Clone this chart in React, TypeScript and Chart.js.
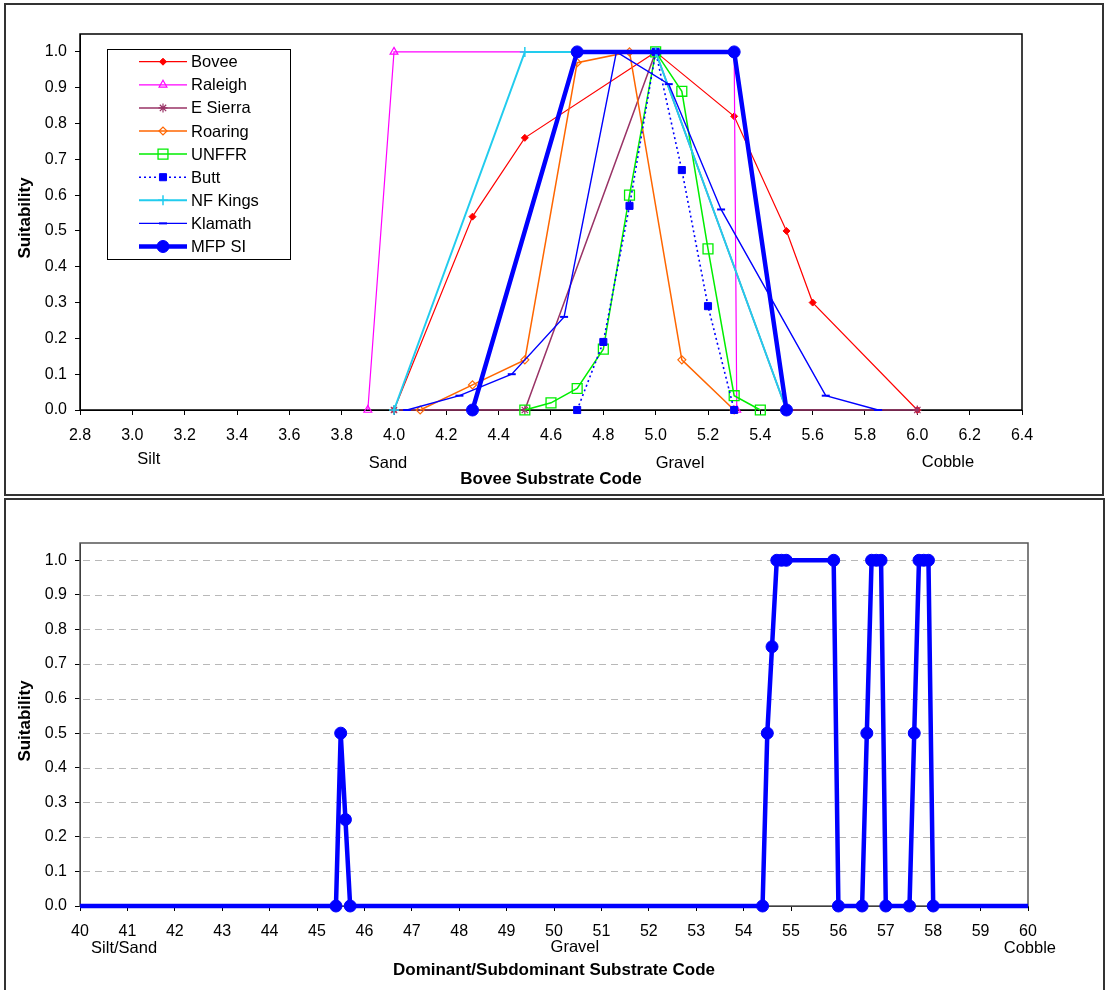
import React, { useEffect, useRef } from 'react';
import { Chart, registerables } from 'chart.js';
import { drawPoint } from 'chart.js/helpers';

Chart.register(...registerables);

const FONT = "'Liberation Sans', Arial, Helvetica, sans-serif";

// ---------- Top chart data (Bovee substrate code) ----------
const boveeX = [4.0, 4.3, 4.5, 5.0, 5.3, 5.5, 5.6, 6.0];
const boveeY = [0, 0.54, 0.76, 1.0, 0.82, 0.5, 0.3, 0];
const raleighX = [3.9, 4.0, 5.3, 5.31];
const raleighY = [0, 1.0, 1.0, 0];
const eSierraX = [4.0, 4.5, 5.0, 5.5, 6.0];
const eSierraY = [0, 0, 1.0, 0, 0];
const roaringX = [4.1, 4.3, 4.5, 4.7, 4.9, 5.1, 5.3];
const roaringY = [0, 0.07, 0.14, 0.97, 1.0, 0.14, 0];
const unffrX = [4.5, 4.6, 4.7, 4.8, 4.9, 5.0, 5.1, 5.2, 5.3, 5.4];
const unffrY = [0, 0.02, 0.06, 0.17, 0.6, 1.0, 0.89, 0.45, 0.04, 0];
const buttX = [4.7, 4.8, 4.9, 5.0, 5.1, 5.2, 5.3];
const buttY = [0, 0.19, 0.57, 1.0, 0.67, 0.29, 0];
const nfKingsX = [4.0, 4.5, 5.0, 5.5];
const nfKingsY = [0, 1.0, 1.0, 0];
const klamathX = [4.05, 4.25, 4.45, 4.65, 4.85, 5.05, 5.25, 5.65, 5.85];
const klamathY = [0, 0.04, 0.1, 0.26, 1.0, 0.91, 0.56, 0.04, 0];
const mfpX = [4.3, 4.7, 5.3, 5.5];
const mfpY = [0, 1.0, 1.0, 0];

const topXTicks = [2.8, 3.0, 3.2, 3.4, 3.6, 3.8, 4.0, 4.2, 4.4, 4.6, 4.8, 5.0, 5.2, 5.4, 5.6, 5.8, 6.0, 6.2, 6.4];
const suitTicks = [0, 0.1, 0.2, 0.3, 0.4, 0.5, 0.6, 0.7, 0.8, 0.9, 1.0];
const topZoneLabels = ['Silt', 'Sand', 'Gravel', 'Cobble'];
const topZoneAt = [3.063, 3.977, 5.093, 6.117];

// ---------- Bottom chart data (dominant/subdominant code) ----------
const domX = [40, 45.4, 45.5, 45.6, 45.7, 54.4, 54.5, 54.6, 54.7, 54.8, 54.9, 55.9, 56.0, 56.5, 56.6, 56.7, 56.8, 56.9, 57.0, 57.5, 57.6, 57.7, 57.8, 57.9, 58.0, 60];
const domY = [0, 0, 0.5, 0.25, 0, 0, 0.5, 0.75, 1.0, 1.0, 1.0, 1.0, 0, 0, 0.5, 1.0, 1.0, 1.0, 0, 0, 0.5, 1.0, 1.0, 1.0, 0, 0];
const bottomXTicks = [40, 41, 42, 43, 44, 45, 46, 47, 48, 49, 50, 51, 52, 53, 54, 55, 56, 57, 58, 59, 60];
const bottomZoneLabels = ['Silt/Sand', 'Gravel', 'Cobble'];
const bottomZoneAt = [40.93, 50.44, 60.04];

type Series = {
  label: string; xs: number[]; ys: number[]; color: string; width: number; dash: number[];
  point: string; radius: number; fill: string; pbw: number;
};

const topSeries: Series[] = [
  { label: 'Bovee', xs: boveeX, ys: boveeY, color: '#FF0000', width: 1.2, dash: [], point: 'rectRot', radius: 3.5, fill: '#FF0000', pbw: 1 },
  { label: 'Raleigh', xs: raleighX, ys: raleighY, color: '#FF00FF', width: 1.2, dash: [], point: 'triangle', radius: 4.5, fill: 'rgba(0,0,0,0)', pbw: 1.2 },
  { label: 'E Sierra', xs: eSierraX, ys: eSierraY, color: '#993366', width: 1.5, dash: [], point: 'star', radius: 4.5, fill: 'rgba(0,0,0,0)', pbw: 1.2 },
  { label: 'Roaring', xs: roaringX, ys: roaringY, color: '#FF6600', width: 1.5, dash: [], point: 'rectRot', radius: 4, fill: 'rgba(0,0,0,0)', pbw: 1.2 },
  { label: 'UNFFR', xs: unffrX, ys: unffrY, color: '#00EE00', width: 1.5, dash: [], point: 'rect', radius: 7, fill: 'rgba(0,0,0,0)', pbw: 1.3 },
  { label: 'Butt', xs: buttX, ys: buttY, color: '#0000FF', width: 1.6, dash: [2, 3], point: 'rect', radius: 5, fill: '#0000FF', pbw: 1 },
  { label: 'NF Kings', xs: nfKingsX, ys: nfKingsY, color: '#22CCEE', width: 2, dash: [], point: 'cross', radius: 5, fill: 'rgba(0,0,0,0)', pbw: 1.5 },
  { label: 'Klamath', xs: klamathX, ys: klamathY, color: '#0000FF', width: 1.4, dash: [], point: 'line', radius: 4, fill: '#0000FF', pbw: 2 },
  { label: 'MFP SI', xs: mfpX, ys: mfpY, color: '#0000FF', width: 4.5, dash: [], point: 'circle', radius: 6, fill: '#0000FF', pbw: 1 },
];

const tickCfg = (padding: number, fmt: (v: number) => string) => ({
  callback: (v: any) => fmt(Number(v)),
  font: { family: FONT, size: 16 },
  color: '#000',
  padding,
  maxRotation: 0,
  autoSkip: false,
});
const gridCfg = { drawOnChartArea: false, drawTicks: true, tickLength: 5, color: '#000', tickColor: '#000', tickWidth: 1 };
const borderCfg = { display: true, color: '#000', width: 1 };

function decorPlugin(o: {
  id: string; offsetY: number; grid: boolean; frame: string; zoneLabels: string[]; zoneAt: number[]; zoneBase: number[];
  title: string; titleBase: number; yTitleCenter: number;
}) {
  return {
    id: o.id,
    beforeDatasetsDraw(chart: any) {
      const { ctx, chartArea: a, scales } = chart;
      ctx.save();
      if (o.grid) {
        ctx.strokeStyle = '#B8B8B8';
        ctx.lineWidth = 1;
        ctx.setLineDash([7, 5]);
        suitTicks.forEach((v) => {
          if (v === 0) return;
          const y = Math.round(scales.y.getPixelForValue(v)) + 0.5;
          ctx.beginPath();
          ctx.moveTo(a.left + 3, y);
          ctx.lineTo(a.right, y);
          ctx.stroke();
        });
        ctx.setLineDash([]);
      }
      ctx.strokeStyle = o.frame;
      ctx.lineWidth = 1.5;
      ctx.strokeRect(Math.round(a.left), Math.round(a.top), Math.round(a.right - a.left), Math.round(a.bottom - a.top));
      ctx.restore();
    },
    afterDraw(chart: any) {
      const { ctx, chartArea: a, scales } = chart;
      ctx.save();
      ctx.fillStyle = '#000';
      ctx.font = `16.5px ${FONT}`;
      ctx.textAlign = 'center';
      ctx.textBaseline = 'alphabetic';
      o.zoneLabels.forEach((t, i) => {
        ctx.fillText(t, scales.x.getPixelForValue(o.zoneAt[i]), o.zoneBase[i] - o.offsetY);
      });
      ctx.font = `bold 17px ${FONT}`;
      ctx.fillText(o.title, (a.left + a.right) / 2, o.titleBase - o.offsetY);
      ctx.translate(25, o.yTitleCenter - o.offsetY);
      ctx.rotate(-Math.PI / 2);
      ctx.textBaseline = 'middle';
      ctx.fillText('Suitability', 0, 0);
      ctx.restore();
    },
  };
}

const legendPlugin = {
  id: 'boxLegend',
  afterDraw(chart: any) {
    const ctx = chart.ctx;
    ctx.save();
    const bx = 107.5, by = 49.5, bw = 183, bh = 210;
    ctx.fillStyle = '#fff';
    ctx.fillRect(bx, by, bw, bh);
    ctx.strokeStyle = '#000';
    ctx.lineWidth = 1;
    ctx.strokeRect(bx, by, bw, bh);
    topSeries.forEach((s, i) => {
      const y = 61.7 + i * 23.1;
      ctx.strokeStyle = s.color;
      ctx.lineWidth = s.width;
      ctx.setLineDash(s.dash);
      ctx.beginPath();
      ctx.moveTo(139, y);
      ctx.lineTo(187, y);
      ctx.stroke();
      ctx.setLineDash([]);
      ctx.fillStyle = s.fill;
      ctx.strokeStyle = s.color;
      ctx.lineWidth = s.pbw;
      drawPoint(ctx, { pointStyle: s.point as any, radius: s.radius, rotation: 0, borderWidth: s.pbw }, 163, y);
      ctx.fillStyle = '#000';
      ctx.font = `16.5px ${FONT}`;
      ctx.textBaseline = 'middle';
      ctx.textAlign = 'left';
      ctx.fillText(s.label, 191, y + 1);
    });
    ctx.restore();
  },
};

function topConfig(): any {
  return {
    type: 'line',
    data: {
      datasets: topSeries.map((s, i) => ({
        label: s.label,
        data: s.xs.map((x, j) => ({ x, y: s.ys[j] })),
        borderColor: s.color,
        borderWidth: s.width,
        borderDash: s.dash,
        pointStyle: s.point,
        pointRadius: s.radius,
        pointBackgroundColor: s.fill,
        pointBorderColor: s.color,
        pointBorderWidth: s.pbw,
        tension: 0,
        fill: false,
        clip: false,
        order: topSeries.length - i,
      })),
    },
    options: {
      responsive: false,
      animation: false,
      events: [],
      layout: { padding: { left: 0, top: 34, right: 86, bottom: 0 } },
      plugins: { legend: { display: false }, tooltip: { enabled: false }, title: { display: false } },
      scales: {
        x: {
          type: 'linear', min: 2.8, max: 6.4,
          afterBuildTicks: (s: any) => { s.ticks = topXTicks.map((v) => ({ value: v })); },
          afterFit: (s: any) => { s.height = 87; },
          ticks: tickCfg(11, (v) => v.toFixed(1)),
          grid: gridCfg, border: borderCfg,
        },
        y: {
          type: 'linear', min: 0, max: 1.05,
          afterBuildTicks: (s: any) => { s.ticks = suitTicks.map((v) => ({ value: v })); },
          afterFit: (s: any) => { s.width = 80; },
          ticks: tickCfg(8, (v) => v.toFixed(1)),
          grid: gridCfg, border: borderCfg,
        },
      },
    },
    plugins: [
      decorPlugin({
        id: 'decorTop', offsetY: 0, grid: false, frame: '#000',
        zoneLabels: topZoneLabels, zoneAt: topZoneAt, zoneBase: [464, 468, 468, 467],
        title: 'Bovee Substrate Code', titleBase: 484, yTitleCenter: 218,
      }),
      legendPlugin,
    ],
  };
}

function bottomConfig(): any {
  return {
    type: 'line',
    data: {
      datasets: [
        {
          label: 'MFP SI',
          data: domX.map((x, j) => ({ x, y: domY[j] })),
          borderColor: '#0000FF',
          borderWidth: 4.5,
          pointStyle: 'circle',
          pointRadius: domX.map((_, j) => (j === 0 || j === domX.length - 1 ? 0 : 6)),
          pointBackgroundColor: '#0000FF',
          pointBorderColor: '#0000FF',
          pointBorderWidth: 1,
          tension: 0,
          fill: false,
          clip: false,
        },
      ],
    },
    options: {
      responsive: false,
      animation: false,
      events: [],
      layout: { padding: { left: 0, top: 46, right: 80, bottom: 0 } },
      plugins: { legend: { display: false }, tooltip: { enabled: false }, title: { display: false } },
      scales: {
        x: {
          type: 'linear', min: 40, max: 60,
          afterBuildTicks: (s: any) => { s.ticks = bottomXTicks.map((v) => ({ value: v })); },
          afterFit: (s: any) => { s.height = 84; },
          ticks: tickCfg(11, (v) => String(Math.round(v))),
          grid: gridCfg, border: borderCfg,
        },
        y: {
          type: 'linear', min: 0, max: 1.05,
          afterBuildTicks: (s: any) => { s.ticks = suitTicks.map((v) => ({ value: v })); },
          afterFit: (s: any) => { s.width = 80; },
          ticks: tickCfg(8, (v) => v.toFixed(1)),
          grid: gridCfg, border: borderCfg,
        },
      },
    },
    plugins: [
      decorPlugin({
        id: 'decorBottom', offsetY: 497, grid: true, frame: '#555',
        zoneLabels: bottomZoneLabels, zoneAt: bottomZoneAt, zoneBase: [953, 952, 953],
        title: 'Dominant/Subdominant Substrate Code', titleBase: 975, yTitleCenter: 721,
      }),
    ],
  };
}

function ChartCanvas({ top, height, make }: { top: number; height: number; make: () => any }) {
  const ref = useRef<HTMLCanvasElement | null>(null);
  useEffect(() => {
    if (!ref.current) return;
    const chart = new Chart(ref.current, make());
    return () => chart.destroy();
  }, []);
  return (
    <canvas
      ref={ref}
      width={1108}
      height={height}
      style={{ position: 'absolute', left: 0, top, width: 1108, height }}
    />
  );
}

export default function App() {
  return (
    <div style={{ position: 'absolute', left: 0, top: 0, width: 1108, height: 990, overflow: 'hidden', background: '#fff' }}>
      <div style={{ position: 'absolute', left: 4, top: 3, width: 1100, height: 493, border: '2px solid #333', boxSizing: 'border-box' }} />
      <div style={{ position: 'absolute', left: 4, top: 498, width: 1101, height: 600, border: '2px solid #333', boxSizing: 'border-box' }} />
      <ChartCanvas top={0} height={497} make={topConfig} />
      <ChartCanvas top={497} height={493} make={bottomConfig} />
    </div>
  );
}
